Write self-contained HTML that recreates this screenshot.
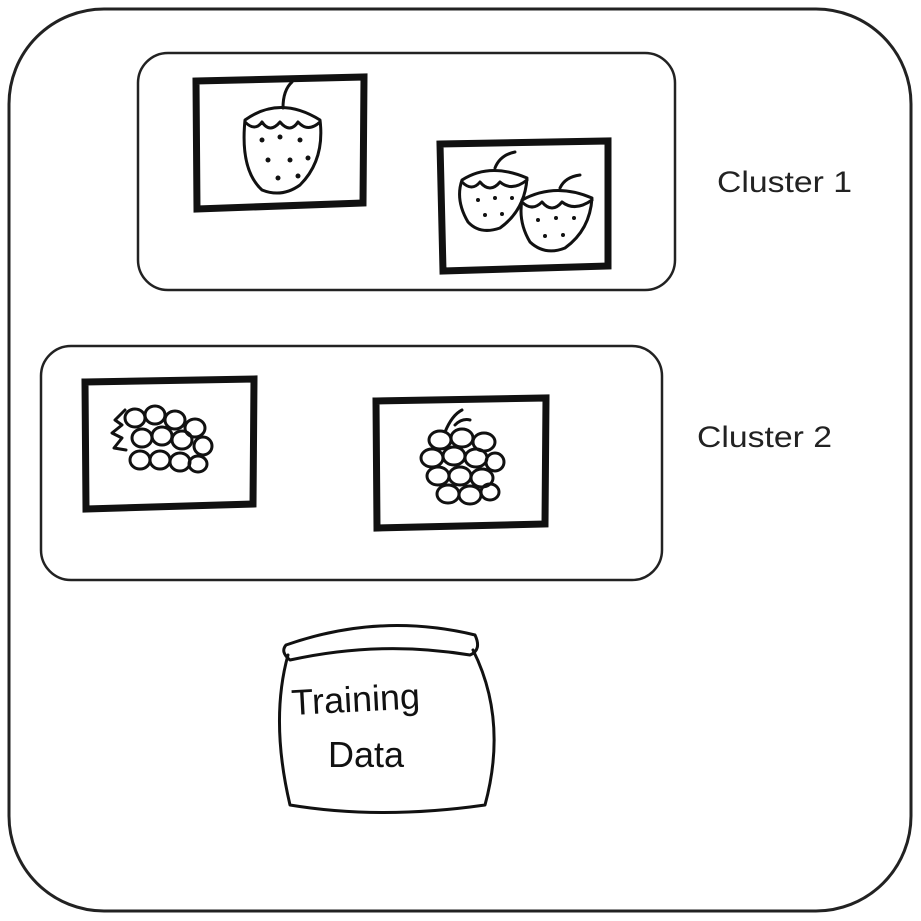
<!DOCTYPE html>
<html><head><meta charset="utf-8"><style>
html,body{margin:0;padding:0;background:#fff;}
svg{display:block;}
</style></head><body>
<svg width="921" height="921" viewBox="0 0 921 921" xmlns="http://www.w3.org/2000/svg">
<rect x="9" y="9" width="902" height="902" rx="95" fill="#fff" stroke="#222" stroke-width="3"/>
<rect x="138" y="53" width="537" height="237" rx="30" fill="#fff" stroke="#222" stroke-width="2.5"/>
<rect x="41" y="346" width="621" height="234" rx="30" fill="#fff" stroke="#222" stroke-width="2.5"/>
<g fill="#fff" stroke="#111" stroke-width="7">
<path d="M196 81 L364 77 L363 203 L197 209 Z"/>
<path d="M440 144 L608 141 L608 266 L443 271 Z"/>
<path d="M85 382 L254 379 L253 504 L86 509 Z"/>
<path d="M376 401 L546 398 L545 524 L377 528 Z"/>
</g>
<g fill="none" stroke="#111" stroke-width="3" stroke-linecap="round" stroke-linejoin="round">
<path d="M245 120 Q280 95 320 120 Q325 160 300 185 Q282 198 262 190 Q240 170 245 120 Z"/>
<path d="M245 122 Q255 132 262 122 Q270 134 280 122 Q290 134 298 122 Q308 133 320 122"/>
<path d="M283 108 Q283 90 292 82"/>
<path d="M462 180 Q490 162 527 178 Q525 210 500 228 Q480 235 468 222 Q455 200 462 180 Z"/>
<path d="M462 182 Q472 192 480 182 Q490 194 500 182 Q512 192 527 180"/>
<path d="M495 168 Q500 155 515 152"/>
<path d="M522 200 Q555 182 592 198 Q590 230 565 248 Q545 256 530 242 Q518 222 522 200 Z"/>
<path d="M522 202 Q532 212 542 202 Q552 214 562 202 Q575 212 592 200"/>
<path d="M560 188 Q565 177 580 175"/>
<ellipse cx="135" cy="418" rx="10" ry="9"/><ellipse cx="155" cy="415" rx="10" ry="9"/><ellipse cx="175" cy="420" rx="10" ry="9"/><ellipse cx="195" cy="428" rx="10" ry="9"/>
<ellipse cx="142" cy="438" rx="10" ry="9"/><ellipse cx="162" cy="436" rx="10" ry="9"/><ellipse cx="182" cy="440" rx="10" ry="9"/><ellipse cx="203" cy="446" rx="9" ry="9"/>
<ellipse cx="140" cy="460" rx="10" ry="9"/><ellipse cx="160" cy="460" rx="10" ry="9"/><ellipse cx="180" cy="462" rx="10" ry="9"/><ellipse cx="198" cy="464" rx="9" ry="8"/>
<path d="M125 410 L115 420 L122 425 L112 433 L122 438 L114 448 L126 450"/>
<path d="M445 432 Q452 415 462 410 M455 425 Q462 418 470 420"/>
<ellipse cx="440" cy="440" rx="11" ry="9"/><ellipse cx="462" cy="438" rx="11" ry="9"/><ellipse cx="484" cy="442" rx="11" ry="9"/>
<ellipse cx="432" cy="458" rx="11" ry="9"/><ellipse cx="454" cy="456" rx="11" ry="9"/><ellipse cx="476" cy="458" rx="11" ry="9"/><ellipse cx="495" cy="462" rx="9" ry="9"/>
<ellipse cx="438" cy="476" rx="11" ry="9"/><ellipse cx="460" cy="476" rx="11" ry="9"/><ellipse cx="482" cy="478" rx="11" ry="9"/>
<ellipse cx="448" cy="494" rx="11" ry="9"/><ellipse cx="470" cy="495" rx="11" ry="9"/><ellipse cx="490" cy="492" rx="9" ry="8"/>
<path d="M286 645 Q380 612 475 635 Q482 650 470 655 Q380 640 290 660 Q280 652 286 645 Z"/>
<path d="M288 655 Q270 720 290 805 Q380 820 485 805 Q508 720 473 650"/>
</g>
<g fill="#111">
<circle cx="262" cy="140" r="2.5"/><circle cx="280" cy="137" r="2.5"/><circle cx="300" cy="140" r="2.5"/><circle cx="268" cy="160" r="2.5"/><circle cx="290" cy="160" r="2.5"/><circle cx="308" cy="158" r="2.5"/><circle cx="278" cy="178" r="2.5"/><circle cx="298" cy="176" r="2.5"/>
<circle cx="478" cy="200" r="2"/><circle cx="495" cy="198" r="2"/><circle cx="512" cy="198" r="2"/><circle cx="485" cy="215" r="2"/><circle cx="502" cy="214" r="2"/>
<circle cx="538" cy="220" r="2"/><circle cx="556" cy="218" r="2"/><circle cx="574" cy="218" r="2"/><circle cx="545" cy="236" r="2"/><circle cx="563" cy="235" r="2"/>
</g>
<text x="717" y="192" font-family="Liberation Sans, sans-serif" font-size="30" fill="#222" textLength="135" lengthAdjust="spacingAndGlyphs">Cluster 1</text>
<text x="697" y="447" font-family="Liberation Sans, sans-serif" font-size="30" fill="#222" textLength="135" lengthAdjust="spacingAndGlyphs">Cluster 2</text>
<text x="292" y="715" font-family="Liberation Sans, sans-serif" font-size="36" fill="#111" transform="rotate(-3 292 715)">Training</text>
<text x="328" y="767" font-family="Liberation Sans, sans-serif" font-size="36" fill="#111">Data</text>
</svg>
</body></html>
